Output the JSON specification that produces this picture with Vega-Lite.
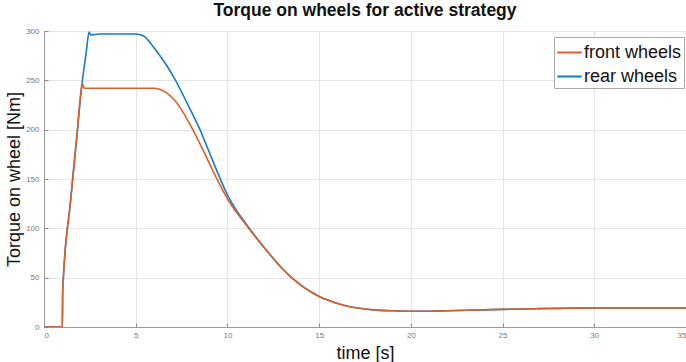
{
  "$schema": "https://vega.github.io/schema/vega-lite/v6.json",
  "autosize": {"type": "none"},
  "width": 642,
  "height": 296,
  "padding": {"left": 44, "top": 31, "right": 0, "bottom": 35},
  "background": "white",
  "title": {
    "text": "Torque on wheels for active strategy",
    "font": "Liberation Sans",
    "fontSize": 17.5,
    "fontWeight": "bold",
    "color": "#111",
    "anchor": "middle",
    "offset": 8
  },
  "config": {
    "view": {"stroke": "#9a9a9a", "strokeWidth": 1},
    "axis": {
      "labelFont": "Liberation Sans",
      "labelFontSize": 8,
      "labelColor": "#777",
      "titleFont": "Liberation Sans",
      "titleFontSize": 18,
      "titleFontWeight": "normal",
      "titleColor": "#111",
      "gridColor": "#e4e4e4",
      "gridWidth": 1,
      "domainColor": "#9a9a9a",
      "tickColor": "#888",
      "tickSize": -4
    }
  },
  "data": {
    "values": [
      {"t": 0, "v": 0, "s": "front wheels"},
      {"t": 1.0, "v": 0, "s": "front wheels"},
      {"t": 1.02, "v": 37, "s": "front wheels"},
      {"t": 1.45, "v": 128, "s": "front wheels"},
      {"t": 1.8, "v": 195, "s": "front wheels"},
      {"t": 2.05, "v": 243, "s": "front wheels"},
      {"t": 2.1, "v": 246, "s": "front wheels"},
      {"t": 2.2, "v": 242, "s": "front wheels"},
      {"t": 3, "v": 242, "s": "front wheels"},
      {"t": 4, "v": 242, "s": "front wheels"},
      {"t": 5, "v": 242, "s": "front wheels"},
      {"t": 6, "v": 242, "s": "front wheels"},
      {"t": 6.3, "v": 241, "s": "front wheels"},
      {"t": 6.7, "v": 237, "s": "front wheels"},
      {"t": 7.06, "v": 231, "s": "front wheels"},
      {"t": 7.5, "v": 220, "s": "front wheels"},
      {"t": 8.11, "v": 200, "s": "front wheels"},
      {"t": 8.68, "v": 179, "s": "front wheels"},
      {"t": 9.4, "v": 151, "s": "front wheels"},
      {"t": 10, "v": 130, "s": "front wheels"},
      {"t": 10.5, "v": 116, "s": "front wheels"},
      {"t": 11, "v": 104, "s": "front wheels"},
      {"t": 11.5, "v": 92, "s": "front wheels"},
      {"t": 12, "v": 80.5, "s": "front wheels"},
      {"t": 12.5, "v": 69.5, "s": "front wheels"},
      {"t": 13, "v": 59, "s": "front wheels"},
      {"t": 13.5, "v": 50, "s": "front wheels"},
      {"t": 14, "v": 42.5, "s": "front wheels"},
      {"t": 14.5, "v": 36.2, "s": "front wheels"},
      {"t": 15, "v": 31, "s": "front wheels"},
      {"t": 15.5, "v": 27, "s": "front wheels"},
      {"t": 16, "v": 23.8, "s": "front wheels"},
      {"t": 16.5, "v": 21.3, "s": "front wheels"},
      {"t": 17, "v": 19.5, "s": "front wheels"},
      {"t": 17.5, "v": 18.3, "s": "front wheels"},
      {"t": 18, "v": 17.4, "s": "front wheels"},
      {"t": 19, "v": 16.4, "s": "front wheels"},
      {"t": 20, "v": 15.9, "s": "front wheels"},
      {"t": 21, "v": 16, "s": "front wheels"},
      {"t": 22, "v": 16.4, "s": "front wheels"},
      {"t": 23, "v": 16.9, "s": "front wheels"},
      {"t": 24, "v": 17.4, "s": "front wheels"},
      {"t": 25, "v": 17.9, "s": "front wheels"},
      {"t": 26, "v": 18.3, "s": "front wheels"},
      {"t": 27, "v": 18.6, "s": "front wheels"},
      {"t": 28, "v": 18.9, "s": "front wheels"},
      {"t": 29, "v": 19.1, "s": "front wheels"},
      {"t": 30, "v": 19.2, "s": "front wheels"},
      {"t": 32, "v": 19.3, "s": "front wheels"},
      {"t": 35, "v": 19.3, "s": "front wheels"},
      {"t": 0, "v": 0, "s": "rear wheels"},
      {"t": 1.0, "v": 0, "s": "rear wheels"},
      {"t": 1.02, "v": 37, "s": "rear wheels"},
      {"t": 1.45, "v": 128, "s": "rear wheels"},
      {"t": 1.8, "v": 195, "s": "rear wheels"},
      {"t": 2.05, "v": 243, "s": "rear wheels"},
      {"t": 2.3, "v": 278, "s": "rear wheels"},
      {"t": 2.46, "v": 299, "s": "rear wheels"},
      {"t": 2.55, "v": 296, "s": "rear wheels"},
      {"t": 3, "v": 297, "s": "rear wheels"},
      {"t": 4, "v": 297, "s": "rear wheels"},
      {"t": 5, "v": 297, "s": "rear wheels"},
      {"t": 5.2, "v": 296.5, "s": "rear wheels"},
      {"t": 5.5, "v": 294, "s": "rear wheels"},
      {"t": 5.87, "v": 286, "s": "rear wheels"},
      {"t": 6.2, "v": 278, "s": "rear wheels"},
      {"t": 6.69, "v": 265, "s": "rear wheels"},
      {"t": 7.17, "v": 250, "s": "rear wheels"},
      {"t": 7.8, "v": 227, "s": "rear wheels"},
      {"t": 8.48, "v": 201, "s": "rear wheels"},
      {"t": 8.86, "v": 184, "s": "rear wheels"},
      {"t": 9.5, "v": 155, "s": "rear wheels"},
      {"t": 10, "v": 134, "s": "rear wheels"},
      {"t": 10.5, "v": 118, "s": "rear wheels"},
      {"t": 11, "v": 105, "s": "rear wheels"},
      {"t": 11.5, "v": 92.5, "s": "rear wheels"},
      {"t": 12, "v": 80.5, "s": "rear wheels"},
      {"t": 12.5, "v": 69.5, "s": "rear wheels"},
      {"t": 13, "v": 59, "s": "rear wheels"},
      {"t": 13.5, "v": 50, "s": "rear wheels"},
      {"t": 14, "v": 42.5, "s": "rear wheels"},
      {"t": 14.5, "v": 36.2, "s": "rear wheels"},
      {"t": 15, "v": 31, "s": "rear wheels"},
      {"t": 15.5, "v": 27, "s": "rear wheels"},
      {"t": 16, "v": 23.8, "s": "rear wheels"},
      {"t": 16.5, "v": 21.3, "s": "rear wheels"},
      {"t": 17, "v": 19.5, "s": "rear wheels"},
      {"t": 17.5, "v": 18.3, "s": "rear wheels"},
      {"t": 18, "v": 17.4, "s": "rear wheels"},
      {"t": 19, "v": 16.4, "s": "rear wheels"},
      {"t": 20, "v": 15.9, "s": "rear wheels"},
      {"t": 21, "v": 16, "s": "rear wheels"},
      {"t": 22, "v": 16.4, "s": "rear wheels"},
      {"t": 23, "v": 16.9, "s": "rear wheels"},
      {"t": 24, "v": 17.4, "s": "rear wheels"},
      {"t": 25, "v": 17.9, "s": "rear wheels"},
      {"t": 26, "v": 18.3, "s": "rear wheels"},
      {"t": 27, "v": 18.6, "s": "rear wheels"},
      {"t": 28, "v": 18.9, "s": "rear wheels"},
      {"t": 29, "v": 19.1, "s": "rear wheels"},
      {"t": 30, "v": 19.2, "s": "rear wheels"},
      {"t": 32, "v": 19.3, "s": "rear wheels"},
      {"t": 35, "v": 19.3, "s": "rear wheels"}
    ]
  },
  "encoding": {
    "x": {
      "field": "t", "type": "quantitative",
      "scale": {"domain": [0, 35], "nice": false},
      "axis": {"values": [0, 5, 10, 15, 20, 25, 30, 35], "title": "time [s]", "labelPadding": 8, "titlePadding": 5}
    },
    "y": {
      "field": "v", "type": "quantitative",
      "scale": {"domain": [0, 300], "nice": false},
      "axis": {"values": [0, 50, 100, 150, 200, 250, 300], "title": "Torque on wheel [Nm]", "labelPadding": 9, "titlePadding": 2}
    },
    "color": {
      "field": "s", "type": "nominal",
      "scale": {"domain": ["front wheels", "rear wheels"], "range": ["#DC5F2A", "#1A7BC2"]},
      "legend": {
        "title": null,
        "orient": "none",
        "legendX": 510,
        "legendY": 6,
        "labelFont": "Liberation Sans",
        "labelFontSize": 18,
        "labelColor": "#111",
        "symbolType": "stroke",
        "symbolSize": 600,
        "symbolStrokeWidth": 2,
        "labelOffset": 1,
        "rowPadding": 1,
        "padding": 2,
        "strokeColor": "#aaa",
        "fillColor": "white"
      }
    }
  },
  "layer": [
    {
      "transform": [{"filter": "datum.s == 'rear wheels'"}],
      "mark": {"type": "line", "strokeWidth": 1.6, "clip": true, "interpolate": "monotone"}
    },
    {
      "transform": [{"filter": "datum.s == 'front wheels'"}],
      "mark": {"type": "line", "strokeWidth": 1.6, "clip": true, "interpolate": "monotone"}
    }
  ]
}
